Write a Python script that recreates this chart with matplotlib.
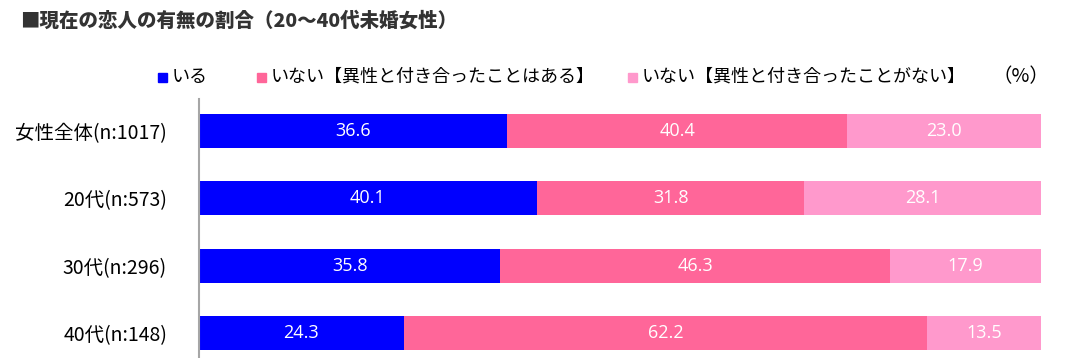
import matplotlib
matplotlib.use("Agg")
import matplotlib.pyplot as plt
import numpy as np

plt.rcParams['font.family'] = ['Noto Sans CJK JP', 'DejaVu Sans']

title = "■現在の恋人の有無の割合（20～40代未婚女性）"
categories = ["女性全体(n:1017)", "20代(n:573)", "30代(n:296)", "40代(n:148)"]
series_names = ["いる", "いない【異性と付き合ったことはある】", "いない【異性と付き合ったことがない】"]
v_iru = [36.6, 40.1, 35.8, 24.3]
v_nai_aru = [40.4, 31.8, 46.3, 62.2]
v_nai_nai = [23.0, 28.1, 17.9, 13.5]
colors = ["#0000FF", "#FF6699", "#FF99CC"]

W, H = 1080, 358
fig = plt.figure(figsize=(W / 100, H / 100), dpi=100)
ax = fig.add_axes([199 / W, 0, 842 / W, 1 - 99 / H])

y = np.arange(len(categories))
left = np.zeros(len(categories))
for vals, col in zip([v_iru, v_nai_aru, v_nai_nai], colors):
    vals = np.array(vals)
    bars = ax.barh(y, vals, left=left, height=0.507, color=col, edgecolor='none')
    for b, v in zip(bars, vals):
        ax.text(b.get_x() + b.get_width() / 2, b.get_y() + b.get_height() / 2,
                f"{v:.1f}", ha='center', va='center', color='white', fontsize=13,
                family=['Open Sans', 'DejaVu Sans'])
    left += vals

ax.set_xlim(0, 100)
ax.set_ylim(3.373, -0.478)
ax.set_yticks(y)
ax.set_yticklabels(categories, fontsize=14)
ax.tick_params(axis='y', length=0, pad=23)
ax.set_xticks([])
for s in ['top', 'right', 'bottom']:
    ax.spines[s].set_visible(False)
ax.spines['left'].set_color('#A6A6A6')
ax.spines['left'].set_linewidth(1.5)

fig.text(20 / W, 1 - 21 / H, title, fontsize=14, fontweight='heavy', color='#333333',
         ha='left', va='center')

# legend row
ly = 1 - 77 / H
leg_x = [158, 257, 628]
for x0, name, col in zip(leg_x, series_names, colors):
    fig.patches.append(matplotlib.patches.Rectangle((x0 / W, ly - 4.5 / H), 9 / W, 9 / H,
                                                    transform=fig.transFigure, color=col))
    fig.text((x0 + 14) / W, ly, name, fontsize=13, ha='left', va='center')
fig.text(993 / W, ly, "（%）", fontsize=14, ha='left', va='center')

fig.savefig("out.png", dpi=100)
